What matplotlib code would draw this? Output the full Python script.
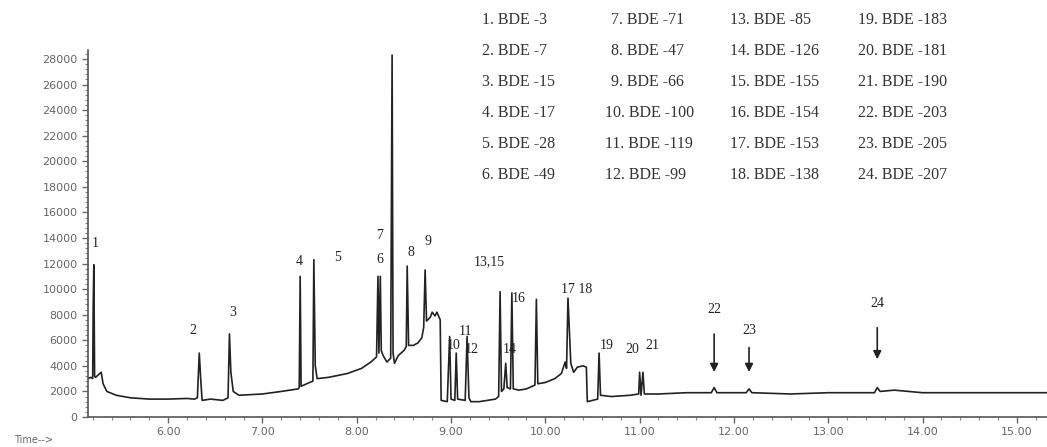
import matplotlib
matplotlib.use("Agg")
import matplotlib.pyplot as plt
from matplotlib.ticker import MultipleLocator, FormatStrFormatter

# chromatogram trace, vertices (time in min, abundance)
trace_time = [5.15, 5.18, 5.20, 5.205, 5.212, 5.22, 5.23, 5.26, 5.29, 5.31, 5.35, 5.45, 5.6, 5.8, 6.0, 6.2, 6.28,
              6.31, 6.33, 6.345, 6.36, 6.45, 6.58,
              6.635, 6.65, 6.665, 6.69, 6.75, 7.0, 7.2, 7.38,
              7.39, 7.40, 7.41, 7.5,
              7.535, 7.545, 7.56, 7.58, 7.7, 7.9, 8.05, 8.15, 8.21,
              8.225, 8.235, 8.25, 8.26, 8.28, 8.32, 8.36,
              8.375, 8.385, 8.40, 8.44, 8.50,
              8.525, 8.535, 8.55, 8.6, 8.65, 8.69,
              8.71, 8.725, 8.74, 8.78, 8.80, 8.83, 8.85, 8.885, 8.895,
              8.96, 8.985, 9.0, 9.04, 9.055, 9.07, 9.15, 9.17, 9.19, 9.21, 9.3, 9.47,
              9.505, 9.52, 9.535, 9.56, 9.58, 9.595, 9.63, 9.645, 9.66, 9.72, 9.8, 9.89,
              9.905, 9.92, 10.0, 10.1, 10.17,
              10.21, 10.225, 10.24, 10.255, 10.27, 10.30, 10.34, 10.40, 10.435, 10.445, 10.50, 10.555,
              10.57, 10.585, 10.7, 10.9, 10.99,
              11.0, 11.015, 11.035, 11.05, 11.2, 11.5, 11.76, 11.79, 11.82,
              12.13, 12.16, 12.19, 12.6, 13.0, 13.49, 13.52, 13.55, 13.7, 14.0, 14.5, 15.0, 15.32]
trace_signal = [3000, 3100, 3000, 8600, 11900, 3200, 3100, 3300, 3500, 2600, 2000, 1700, 1500, 1400, 1400, 1450, 1400,
                1500, 5000, 3000, 1300, 1400, 1300,
                1500, 6500, 3500, 2000, 1700, 1800, 2000, 2200,
                2300, 11000, 2400, 2700,
                2800, 12300, 4000, 3000, 3100, 3400, 3800, 4300, 4700,
                11000, 5000, 11000, 5200, 4800, 4300, 4600,
                28300, 5000, 4200, 4800, 5200,
                5500, 11800, 5600, 5600, 5800, 6200,
                7000, 11500, 7500, 7800, 8200, 7900, 8200, 7600, 1300,
                1200, 6300, 1400, 1300, 5000, 1400, 1300, 6300, 1500, 1200, 1200, 1400,
                1600, 9800, 2000, 2200, 4200, 2300, 2200, 9700, 2200, 2100, 2200, 2500,
                9200, 2600, 2700, 3000, 3400,
                4300, 3800, 9300, 6800, 4200, 3500, 3900, 4000, 3900, 1200, 1300, 1400,
                5000, 1700, 1600, 1700, 1800,
                3500, 1700, 3500, 1800, 1800, 1900, 1900, 2300, 1900,
                1900, 2200, 1900, 1800, 1900, 1900, 2300, 2000, 2100, 1900, 1900, 1900, 1900]

# peak number labels
peak_labels = ["1", "2", "3", "4", "5", "7", "6", "8", "9", "13,15", "10", "11", "12", "14", "16", "17 18",
               "19", "20", "21"]
label_time = [5.23, 6.26, 6.68, 7.39, 7.80, 8.24, 8.24, 8.57, 8.76, 9.41, 9.03, 9.15, 9.22, 9.62, 9.72, 10.33,
              10.65, 10.92, 11.14]
label_value = [13600, 6800, 8200, 12150, 12500, 14200, 12300, 12900, 13700, 12150, 5560, 6700, 5250, 5300,
               9300, 10000, 5560, 5300, 5560]

# arrowed peaks
arrow_labels = ["22", "23", "24"]
arrow_time = [11.79, 12.16, 13.52]
arrow_top = [6700, 5650, 7200]
arrow_tip = [3300, 3300, 4300]
arrow_text_y = [8400, 6800, 8900]

compounds = ["1. BDE -3", "2. BDE -7", "3. BDE -15", "4. BDE -17", "5. BDE -28", "6. BDE -49",
             "7. BDE -71", "8. BDE -47", "9. BDE -66", "10. BDE -100", "11. BDE -119", "12. BDE -99",
             "13. BDE -85", "14. BDE -126", "15. BDE -155", "16. BDE -154", "17. BDE -153", "18. BDE -138",
             "19. BDE -183", "20. BDE -181", "21. BDE -190", "22. BDE -203", "23. BDE -205", "24. BDE -207"]

fig = plt.figure(figsize=(10.47, 4.47), dpi=100)
ax = fig.add_axes([88 / 1047, 1 - 417 / 447, 1 - 88 / 1047, (417 - 50) / 447])

ax.plot(trace_time, trace_signal, color="#222222", lw=1.2)

ax.set_xlim(5.15, 15.32)
ax.set_ylim(0, 28700)
ax.spines["top"].set_visible(False)
ax.spines["right"].set_visible(False)
for s in ("left", "bottom"):
    ax.spines[s].set_color("#555555")
    ax.spines[s].set_linewidth(1.2)

ax.xaxis.set_major_locator(MultipleLocator(1.0))
ax.xaxis.set_minor_locator(MultipleLocator(0.2))
ax.xaxis.set_major_formatter(FormatStrFormatter("%.2f"))
ax.set_xticks([6, 7, 8, 9, 10, 11, 12, 13, 14, 15])
ax.yaxis.set_major_locator(MultipleLocator(2000))
ax.yaxis.set_minor_locator(MultipleLocator(400))
ax.tick_params(axis="both", which="major", labelsize=8, labelcolor="#666666", color="#666666",
               length=4, width=1)
ax.tick_params(axis="both", which="minor", color="#888888", length=2, width=0.8)

serif = "Liberation Serif"
for lab, t, v in zip(peak_labels, label_time, label_value):
    ax.text(t, v, lab, ha="center", va="center", fontsize=10, family=serif, color="#222222")

for lab, t, top, tip, ty in zip(arrow_labels, arrow_time, arrow_top, arrow_tip, arrow_text_y):
    ax.annotate("", xy=(t, tip), xytext=(t, top),
                arrowprops=dict(arrowstyle="-|>", color="#222222", lw=1.2, mutation_scale=12))
    ax.text(t, ty, lab, ha="center", va="center", fontsize=10, family=serif, color="#222222")

# compound list, 4 columns x 6 rows
col_x = [482, 605, 730, 858]
row_y = [20, 51, 82, 113, 144, 175]
for i, name in enumerate(compounds):
    c, r = divmod(i, 6)
    x = col_x[c]
    if c == 1 and r < 3:
        x += 6
    fig.text(x / 1047, 1 - row_y[r] / 447, name, ha="left", va="center",
             fontsize=11.5, family=serif, color="#333333")

fig.text(14 / 1047, 1 - 440 / 447, "Time-->", ha="left", va="center", fontsize=7, color="#666666")

fig.savefig("out.png", dpi=100)
